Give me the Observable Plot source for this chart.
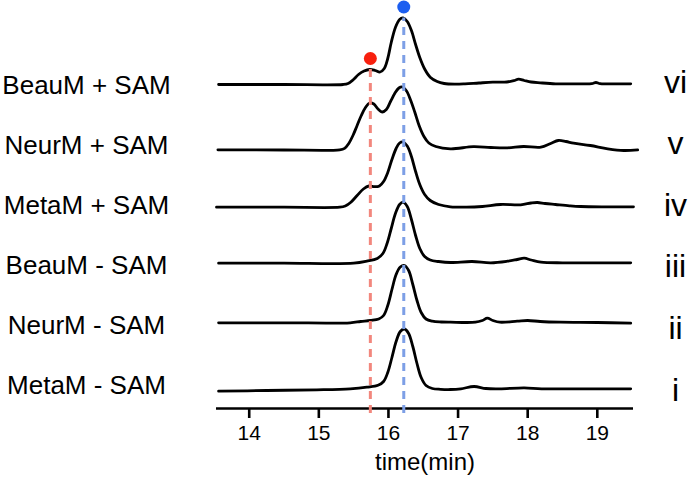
<!DOCTYPE html>
<html><head><meta charset="utf-8">
<script src="https://cdn.jsdelivr.net/npm/d3@7"></script>
<script src="https://cdn.jsdelivr.net/npm/@observablehq/plot@0.6"></script>
<style>body{margin:0;background:#fff;} #chart svg{display:block;}</style>
</head><body><div id="chart"></div>
<script>
// Sample names, bottom trace first
const sampleLabels = ["MetaM - SAM", "NeurM - SAM", "BeauM - SAM", "MetaM + SAM", "NeurM + SAM", "BeauM + SAM"];
const romanLabels = ["i", "ii", "iii", "iv", "v", "vi"];
const timeTicks = [14, 15, 16, 17, 18, 19];
// Peak markers: red (minor product) and blue (main product), times in min
const markerTimes = [15.74, 16.22];

// Chromatogram traces: [time (min), signal (a.u., relative to row)]
const traceI = [[13.56,-6.7],[14.25,-6],[14.97,-5.3],[15.45,-4.3],[15.69,-2.7],[15.85,-0.8],[15.93,3],[15.99,12],[16.05,27],[16.11,43],[16.17,53],[16.23,55.5],[16.29,51],[16.35,38],[16.41,21],[16.47,7],[16.54,-1],[16.63,-4],[16.75,-4.8],[16.89,-5],[17.04,-4.3],[17.23,-2],[17.4,-4],[17.6,-4.3],[17.95,-3.3],[18.2,-4.3],[18.76,-4.3],[19.48,-4.3]];
const traceII = [[13.56,1.7],[14.5,1.7],[15.45,1.7],[15.6,3],[15.74,4],[15.86,5.5],[15.93,9],[15.99,19],[16.05,35],[16.11,50],[16.17,57.5],[16.23,59],[16.29,54],[16.35,40],[16.41,24],[16.47,12],[16.54,5.5],[16.63,3.3],[16.76,2.5],[16.89,2.3],[17.25,2.3],[17.35,4],[17.42,6.3],[17.5,4],[17.6,2.3],[17.85,3.3],[18.0,4],[18.18,3],[18.47,2.3],[19.0,2],[19.48,1.3]];
const traceIII = [[13.56,1.3],[14.5,1.3],[15.5,1.3],[15.69,3.3],[15.84,6],[15.92,11],[15.98,21],[16.04,36],[16.1,51],[16.16,60],[16.21,62.3],[16.27,58],[16.33,45],[16.39,29],[16.45,16],[16.52,8],[16.6,4.5],[16.72,3],[16.89,2],[17.2,3],[17.47,1.7],[17.71,3.3],[17.85,5],[17.95,6.3],[18.05,4.5],[18.19,2.3],[18.5,1.7],[18.76,1.7],[19.48,1.7]];
const traceIV = [[13.53,-2.7],[14.5,-2.7],[15.3,-2.7],[15.38,-1.5],[15.46,2.3],[15.55,9],[15.64,15.5],[15.72,18.5],[15.8,17.8],[15.87,18.5],[15.93,23],[15.99,32],[16.05,45],[16.11,56],[16.16,61.5],[16.21,62.5],[16.27,58.5],[16.33,48],[16.39,33],[16.45,20],[16.52,10],[16.6,4],[16.72,0],[16.89,-2.3],[17.12,-2.7],[17.35,-2],[17.61,0],[17.9,-0.3],[18.05,1.5],[18.14,2],[18.25,1],[18.4,0],[18.6,-1.3],[18.76,-2],[19.14,-2.3],[19.52,-2.3]];
const traceV = [[13.55,-5.3],[14.5,-5.5],[15.3,-5.3],[15.37,-3.8],[15.43,1],[15.49,9],[15.55,19],[15.61,29],[15.67,37],[15.73,41.5],[15.79,40.5],[15.85,35.5],[15.91,32.5],[15.97,35],[16.03,43],[16.09,51],[16.15,56.5],[16.2,57.5],[16.26,53.5],[16.32,44],[16.38,32],[16.44,19],[16.51,8],[16.58,1.5],[16.68,-2],[16.89,-4.3],[17.22,-2.2],[17.47,-3],[17.71,-3.3],[17.94,-2],[18.19,-2.7],[18.33,1],[18.44,4],[18.55,3],[18.66,1.3],[18.9,-1],[19.15,-4.3],[19.38,-6],[19.58,-5.3]];
const traceVI = [[13.56,0],[14.5,0],[15.35,0],[15.42,1],[15.49,4.5],[15.57,10],[15.65,13.5],[15.73,15],[15.81,14],[15.88,12.5],[15.94,16],[15.99,26],[16.04,42],[16.1,57],[16.16,65],[16.21,66.5],[16.27,63],[16.33,54],[16.39,40],[16.45,27],[16.52,15.5],[16.6,7.3],[16.7,3],[16.8,1],[16.95,0.3],[17.1,0.6],[17.3,1.5],[17.5,2.3],[17.7,2.5],[17.8,3.8],[17.87,5.3],[17.95,4],[18.05,2.5],[18.18,1.7],[18.4,0.7],[18.7,0.7],[18.92,0.8],[18.98,2],[19.04,0.8],[19.2,0.7],[19.48,0.7]];

const traces = [traceI, traceII, traceIII, traceIV, traceV, traceVI];
const rowStep = 60;
const lines = traces.flatMap((tr, k) => tr.map(([t, s]) => ({k, t, y: k * rowStep + s})));

// marker heights taken from the top trace near each marker time
const topRow = traces.length - 1;
const markers = markerTimes.map((t, i) => {
  const near = traceVI.filter(([tt]) => Math.abs(tt - t) < 0.06);
  const peak = d3.max(near, d => d[1]);
  return {t, i, y: topRow * rowStep + peak};
});
const dotColors = ["#f8200e", "#1c5ef0"];
const dashColors = ["#f2877d", "#7d9fe6"];
const labelRows = sampleLabels.map((s, k) => ({k, s, r: romanLabels[k]}));

const font = "'Liberation Sans', Arial, Helvetica, sans-serif";
const chart = Plot.plot({
  width: 690,
  height: 481,
  marginTop: 0,
  marginBottom: 73,
  marginLeft: 216,
  marginRight: 57,
  style: {fontFamily: font, fontSize: "20px", color: "#000", background: "#fff"},
  x: {domain: [13.53, 19.52]},
  y: {domain: [-24, 384], axis: null},
  marks: [
    Plot.line(lines, {x: "t", y: "y", z: "k", stroke: "#000", strokeWidth: 2.8, curve: "catmull-rom"}),
    Plot.ruleY([-24], {stroke: "#000", strokeWidth: 2.6}),
    Plot.axisX({ticks: timeTicks, tickSize: 10, tickPadding: 7, strokeWidth: 2.6, fontSize: 21, label: null, tickFormat: d => String(d)}),
    Plot.ruleX(markers, {x: "t", y1: -29, y2: "y", stroke: d => dashColors[d.i], strokeWidth: 3, strokeDasharray: "8,6"}),
    Plot.dot(markers, {x: "t", y: "y", dy: -11, r: 6.5, fill: d => dotColors[d.i], stroke: "none"}),
    Plot.text(labelRows, {y: d => d.k * rowStep, text: "s", frameAnchor: "left", dx: -130, dy: 9, textAnchor: "middle", lineAnchor: "bottom", fontSize: 26, fill: "#000"}),
    Plot.text(labelRows, {y: d => d.k * 61.6 - 16, text: "r", frameAnchor: "right", dx: 42, textAnchor: "middle", lineAnchor: "bottom", fontSize: 32, fill: "#000"}),
    Plot.text(["time(min)"], {frameAnchor: "bottom", dy: 61, lineAnchor: "bottom", fontSize: 24, fill: "#000"})
  ]
});
document.getElementById("chart").appendChild(chart);
</script>
</body></html>
